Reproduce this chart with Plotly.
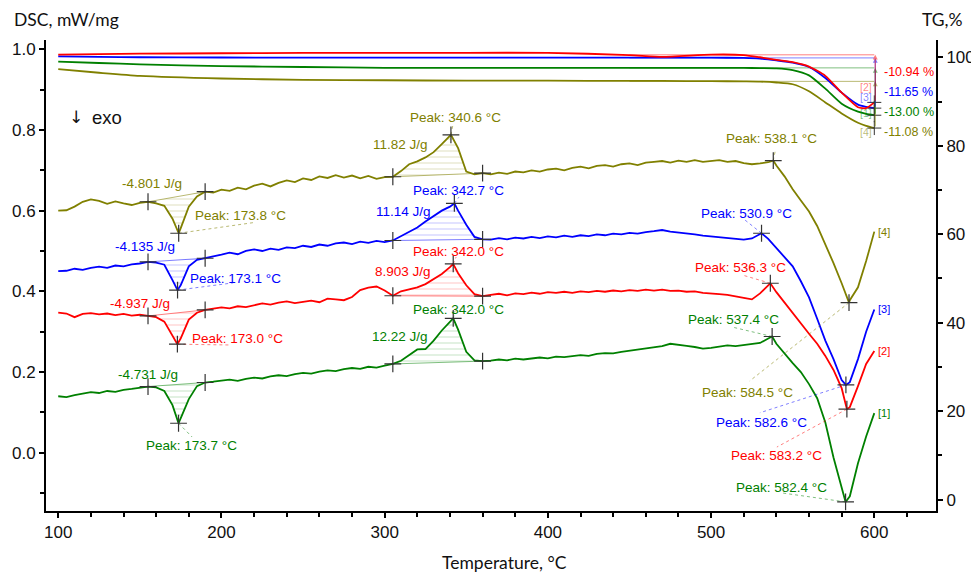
import plotly.graph_objects as go

# ---------------- data ----------------
T_GRID = list(range(100, 601, 5))

DSC_OLIVE = [0.600, 0.601, 0.610, 0.622, 0.628, 0.624, 0.617, 0.623, 0.618, 0.614,
             0.619, 0.622, 0.618, 0.612, 0.580, 0.556, 0.610, 0.635, 0.647, 0.645,
             0.652, 0.649, 0.657, 0.653, 0.662, 0.667, 0.660, 0.669, 0.675, 0.671,
             0.680, 0.676, 0.685, 0.681, 0.688, 0.682, 0.687, 0.680, 0.686, 0.679,
             0.683, 0.684, 0.698, 0.715, 0.722, 0.732, 0.745, 0.765, 0.785, 0.755,
             0.697, 0.690, 0.693, 0.690, 0.694, 0.691, 0.697, 0.695, 0.700, 0.697,
             0.702, 0.704, 0.700, 0.706, 0.709, 0.705, 0.711, 0.713, 0.709, 0.715,
             0.717, 0.713, 0.719, 0.721, 0.723, 0.719, 0.724, 0.721, 0.725, 0.721,
             0.723, 0.725, 0.721, 0.723, 0.718, 0.715, 0.717, 0.720, 0.712, 0.685,
             0.653, 0.625, 0.598, 0.562, 0.518, 0.470, 0.420, 0.378, 0.410, 0.475,
             0.548]
DSC_BLUE = [0.450, 0.451, 0.456, 0.453, 0.458, 0.461, 0.458, 0.464, 0.462, 0.467,
            0.469, 0.473, 0.471, 0.466, 0.428, 0.415, 0.462, 0.478, 0.482, 0.487,
            0.491, 0.496, 0.492, 0.500, 0.504, 0.500, 0.506, 0.503, 0.509, 0.507,
            0.513, 0.510, 0.516, 0.513, 0.519, 0.521, 0.517, 0.523, 0.520, 0.525,
            0.522, 0.526, 0.536, 0.548, 0.558, 0.573, 0.586, 0.600, 0.610, 0.600,
            0.565, 0.535, 0.529, 0.528, 0.532, 0.529, 0.533, 0.531, 0.535, 0.532,
            0.536, 0.534, 0.538, 0.535, 0.539, 0.537, 0.541, 0.539, 0.543, 0.541,
            0.545, 0.543, 0.547, 0.549, 0.552, 0.548, 0.546, 0.543, 0.541, 0.538,
            0.536, 0.534, 0.532, 0.530, 0.528, 0.531, 0.541, 0.530, 0.508, 0.485,
            0.462, 0.425, 0.385, 0.332, 0.278, 0.232, 0.180, 0.175, 0.232, 0.300,
            0.355]
DSC_RED = [0.347, 0.345, 0.336, 0.344, 0.346, 0.343, 0.345, 0.341, 0.344, 0.340,
           0.342, 0.339, 0.336, 0.325, 0.290, 0.283, 0.330, 0.347, 0.354, 0.357,
           0.360, 0.358, 0.363, 0.361, 0.366, 0.370, 0.367, 0.372, 0.375, 0.371,
           0.374, 0.377, 0.373, 0.382, 0.380, 0.378, 0.386, 0.403, 0.409, 0.412,
           0.402, 0.389, 0.400, 0.405, 0.410, 0.418, 0.430, 0.443, 0.460, 0.445,
           0.415, 0.393, 0.388, 0.391, 0.394, 0.390, 0.395, 0.393, 0.397, 0.394,
           0.398, 0.396, 0.399, 0.396, 0.400, 0.398, 0.401, 0.399, 0.402, 0.400,
           0.403, 0.401, 0.404, 0.402, 0.404, 0.401, 0.402, 0.399, 0.400, 0.396,
           0.395, 0.393, 0.391, 0.388, 0.384, 0.380, 0.395, 0.415, 0.398, 0.372,
           0.345, 0.318, 0.295, 0.270, 0.240, 0.205, 0.160, 0.113, 0.165, 0.220,
           0.252]
DSC_GREEN = [0.140, 0.138, 0.143, 0.147, 0.150, 0.148, 0.153, 0.151, 0.156, 0.158,
             0.161, 0.164, 0.162, 0.153, 0.118, 0.085, 0.133, 0.165, 0.174, 0.176,
             0.179, 0.181, 0.178, 0.183, 0.186, 0.184, 0.189, 0.192, 0.190, 0.195,
             0.198, 0.196, 0.201, 0.204, 0.202, 0.207, 0.210, 0.208, 0.213, 0.211,
             0.216, 0.220, 0.228, 0.242, 0.256, 0.257, 0.278, 0.303, 0.325, 0.305,
             0.250, 0.229, 0.227, 0.228, 0.231, 0.229, 0.233, 0.231, 0.234, 0.236,
             0.234, 0.238, 0.237, 0.240, 0.242, 0.240, 0.245, 0.247, 0.246, 0.250,
             0.253, 0.256, 0.258, 0.262, 0.264, 0.270, 0.268, 0.265, 0.262, 0.258,
             0.260, 0.263, 0.266, 0.264, 0.267, 0.270, 0.272, 0.283, 0.270, 0.245,
             0.222, 0.200, 0.170, 0.135, 0.075, -0.012, -0.085, -0.108, -0.026, 0.040,
             0.098]

PEAK_T_OLIVE = [173.8, 340.6, 538.1, 584.5]
PEAK_V_OLIVE = [0.544, 0.788, 0.724, 0.372]
PEAK_T_BLUE = [173.1, 342.7, 530.9, 582.6]
PEAK_V_BLUE = [0.403, 0.618, 0.544, 0.168]
PEAK_T_RED = [173.0, 342.0, 536.3, 583.2]
PEAK_V_RED = [0.269, 0.468, 0.420, 0.108]
PEAK_T_GREEN = [173.7, 342.0, 537.4, 582.4]
PEAK_V_GREEN = [0.073, 0.333, 0.288, -0.122]

INTEGRATION_LIMITS = [(155, 190), (305, 360)]
ENTHALPY_OLIVE = ["-4.801 J/g", "11.82 J/g"]
ENTHALPY_BLUE = ["-4.135 J/g", "11.14 J/g"]
ENTHALPY_RED = ["-4.937 J/g", "8.903 J/g"]
ENTHALPY_GREEN = ["-4.731 J/g", "12.22 J/g"]

T_TG = [100, 125, 150, 200, 250, 300, 350, 400, 450, 470, 500, 520, 530, 540, 550, 560, 570, 580, 590, 595, 600]
TG_RED = [100.6, 100.7, 100.8, 100.9, 101.0, 101.0, 101.0, 101.0, 100.5, 100.1, 100.6, 100.5, 100.0, 99.4, 98.9, 97.9, 95.8, 92.0, 88.7, 88.5, 89.8]
TG_BLUE = [100.2, 100.1, 100.0, 99.95, 99.9, 99.9, 99.9, 99.9, 99.9, 99.9, 99.9, 99.85, 99.7, 99.3, 98.8, 97.8, 95.3, 92.0, 89.3, 88.8, 88.5]
TG_GREEN = [99.0, 98.7, 98.4, 98.0, 97.8, 97.6, 97.6, 97.6, 97.6, 97.6, 97.6, 97.6, 97.55, 97.5, 97.1, 95.9, 92.9, 89.5, 87.7, 87.2, 86.9]
TG_OLIVE = [97.3, 96.5, 95.8, 95.2, 94.9, 94.8, 94.7, 94.7, 94.65, 94.65, 94.6, 94.55, 94.5, 94.3, 93.9, 92.3, 89.8, 87.3, 85.2, 84.5, 84.0]
TG_STEP_START = {"red": 100.55, "blue": 99.85, "green": 97.6, "olive": 94.55}
MASS_CHANGE = {"red": "-10.94 %", "blue": "-11.65 %", "green": "-13.00 %", "olive": "-11.08 %"}
CURVE_TAGS = {"green": "[1]", "red": "[2]", "blue": "[3]", "olive": "[4]"}

# ---------------- styling ----------------
COL = {"olive": "#808000", "blue": "#0000ff", "red": "#ff0000", "green": "#008000"}
LIGHT = {"olive": "rgba(128,128,0,0.55)", "blue": "rgba(0,0,255,0.5)",
         "red": "rgba(255,0,0,0.5)", "green": "rgba(0,128,0,0.5)"}
FONT = "Liberation Sans, Arial, sans-serif"
TITLE_FONT = "Lato, sans-serif"

fig = go.Figure()


def merge(tg, vg, tp, vp):
    pts = sorted(list(zip(tg, vg)) + list(zip(tp, vp)))
    return [p[0] for p in pts], [p[1] for p in pts]


# TG curves (right axis)
for key, tgv in [("olive", TG_OLIVE), ("green", TG_GREEN), ("blue", TG_BLUE), ("red", TG_RED)]:
    lvl = TG_STEP_START[key]
    fig.add_trace(go.Scatter(x=[450, 600], y=[lvl, lvl], yaxis="y2", mode="lines",
                             line=dict(color=LIGHT[key], width=1), hoverinfo="skip"))
    fig.add_trace(go.Scatter(x=T_TG, y=tgv, yaxis="y2", mode="lines",
                             line=dict(color=COL[key], width=1.8, shape="spline", smoothing=0.6)))
    fig.add_trace(go.Scatter(x=[600], y=[tgv[-1]], yaxis="y2", mode="markers",
                             marker=dict(symbol="cross-thin", size=10, line=dict(color="#333", width=1))))

dsc = {"olive": (DSC_OLIVE, PEAK_T_OLIVE, PEAK_V_OLIVE, ENTHALPY_OLIVE),
       "blue": (DSC_BLUE, PEAK_T_BLUE, PEAK_V_BLUE, ENTHALPY_BLUE),
       "red": (DSC_RED, PEAK_T_RED, PEAK_V_RED, ENTHALPY_RED),
       "green": (DSC_GREEN, PEAK_T_GREEN, PEAK_V_GREEN, ENTHALPY_GREEN)}

merged = {}
for key, (vals, pt, pv, _) in dsc.items():
    mt, mv = merge(T_GRID, vals, pt, pv)
    merged[key] = (mt, mv)
    for lo, hi in INTEGRATION_LIMITS:
        xs = [t for t in mt if lo <= t <= hi]
        ys = [v for t, v in zip(mt, mv) if lo <= t <= hi]
        fig.add_trace(go.Scatter(x=xs, y=ys, mode="lines", fill="toself",
                                 fillcolor="rgba(0,0,0,0)", line=dict(width=0),
                                 fillpattern=dict(shape="-", fgcolor=LIGHT[key], bgcolor="rgba(0,0,0,0)",
                                                  size=6, solidity=0.15),
                                 hoverinfo="skip"))
        fig.add_trace(go.Scatter(x=[xs[0], xs[-1]], y=[ys[0], ys[-1]], mode="lines",
                                 line=dict(color=LIGHT[key], width=1), hoverinfo="skip"))

for key in ["olive", "blue", "red", "green"]:
    mt, mv = merged[key]
    fig.add_trace(go.Scatter(x=mt, y=mv, mode="lines", line=dict(color=COL[key], width=1.8)))

# label placements (data coords) and leader-line ends
LABELS = {
    "olive": {"enth": [(157.4, 0.668), (309.4, 0.765)],
              "peak": [(211.9, 0.589), (343.7, 0.832), (537.2, 0.780), (522.5, 0.150)],
              "lead": [(220.7, 0.571), (342.0, 0.816), (539.5, 0.752), (523.7, 0.178)]},
    "blue": {"enth": [(153.1, 0.510), (311.8, 0.597)],
             "peak": [(208.9, 0.433), (345.5, 0.651), (521.9, 0.594), (531.1, 0.076)],
             "lead": [(207.2, 0.421), (345.6, 0.634), (520.7, 0.577), (529.9, 0.099)]},
    "red": {"enth": [(150.1, 0.371), (311.2, 0.448)],
            "peak": [(210.1, 0.284), (345.5, 0.498), (518.2, 0.458), (540.3, -0.006)],
            "lead": [(205.2, 0.267), (343.8, 0.485), (519.5, 0.440), (540.3, 0.014)]},
    "green": {"enth": [(155.0, 0.193), (309.4, 0.287)],
              "peak": [(181.9, 0.019), (345.5, 0.354), (514.0, 0.329), (543.4, -0.085)],
              "lead": [(182.0, 0.039), (343.1, 0.351), (513.4, 0.311), (543.9, -0.100)]},
}

annotations = []
for key, (vals, pt, pv, enth) in dsc.items():
    lab = LABELS[key]
    for (tx, ty), txt in zip(lab["enth"], enth):
        annotations.append(dict(x=tx, y=ty, text=txt, showarrow=False, xref="x", yref="y",
                                font=dict(family=FONT, size=13.5, color=COL[key])))
    for (tx, ty), t in zip(lab["peak"], pt):
        annotations.append(dict(x=tx, y=ty, text="Peak: %.1f °C" % t, showarrow=False, xref="x", yref="y",
                                font=dict(family=FONT, size=13.5, color=COL[key])))
    for (lx, ly), t, v in zip(lab["lead"], pt, pv):
        fig.add_trace(go.Scatter(x=[t, lx], y=[v, ly], mode="lines",
                                 line=dict(color=LIGHT[key], width=1, dash="dot"), hoverinfo="skip"))
    cx, cy = [], []
    for lo, hi in INTEGRATION_LIMITS:
        for b in (lo, hi):
            cx.append(b)
            cy.append(vals[T_GRID.index(b)])
    cx += pt
    cy += pv
    fig.add_trace(go.Scatter(x=cx, y=cy, mode="markers",
                             marker=dict(symbol="cross-thin", size=12, line=dict(color="#333", width=1.2))))
    annotations.append(dict(x=601, y=vals[-1], text=CURVE_TAGS[key], showarrow=False, xanchor="left",
                            xref="x", yref="y", font=dict(family=FONT, size=11, color=COL[key])))

# TG mass change arrows and labels
TG_END = {"red": TG_RED[-1], "blue": TG_BLUE[-1], "green": TG_GREEN[-1], "olive": TG_OLIVE[-1]}
MC_Y = {"red": 96.7, "blue": 92.2, "green": 87.6, "olive": 83.0}
TAG_Y = {"red": 93.35, "blue": 91.0, "green": 87.3, "olive": 83.1}
for key in ["olive", "green", "blue", "red"]:
    annotations.append(dict(x=600.6, y=TG_STEP_START[key], xref="x", yref="y2",
                            ax=600.6, ay=TG_END[key], axref="x", ayref="y2",
                            showarrow=True, arrowhead=2, arrowsize=0.8, arrowwidth=1.2,
                            arrowcolor=LIGHT[key], text=""))
    annotations.append(dict(x=605.0, y=MC_Y[key], xref="x", yref="y2", text=MASS_CHANGE[key],
                            showarrow=False, xanchor="left",
                            font=dict(family=FONT, size=12.5, color=COL[key])))
    annotations.append(dict(x=599.6, y=TAG_Y[key], xref="x", yref="y2", text=CURVE_TAGS[key],
                            showarrow=False, xanchor="right",
                            font=dict(family=FONT, size=10.5, color=LIGHT[key])))

# titles / misc text
annotations += [
    dict(x=0, y=1.0425, xref="paper", yref="paper", xanchor="left", yanchor="middle", xshift=-34,
         text="DSC, mW/mg", showarrow=False, font=dict(family=TITLE_FONT, size=17.5, color="#111")),
    dict(x=0.982, y=1.0425, xref="paper", yref="paper", xanchor="left", yanchor="middle",
         text="TG,%", showarrow=False, font=dict(family=TITLE_FONT, size=17.5, color="#111")),
    dict(x=0.5152, y=-0.1104, xref="paper", yref="paper", xanchor="center", yanchor="middle",
         text="Temperature, °C", showarrow=False, font=dict(family=TITLE_FONT, size=17.5, color="#111")),
    dict(x=0.0337, y=0.8365, xref="paper", yref="paper", xanchor="center", yanchor="middle",
         text="↓", showarrow=False, font=dict(family="DejaVu Sans", size=17, color="#111")),
    dict(x=0.0685, y=0.8365, xref="paper", yref="paper", xanchor="center", yanchor="middle",
         text="exo", showarrow=False, font=dict(family=FONT, size=18.5, color="#111")),
]

axis_common = dict(showline=True, linewidth=2, linecolor="black", ticks="outside", ticklen=5,
                   tickwidth=1.5, tickcolor="black", showgrid=False, zeroline=False, automargin=False,
                   tickfont=dict(family=FONT, size=17, color="#111"))

fig.update_layout(
    width=971, height=567,
    margin=dict(l=38, r=43, t=32, b=64),
    plot_bgcolor="white", paper_bgcolor="white",
    showlegend=False,
    xaxis=dict(range=[92.5, 637.8], tick0=0, dtick=100,
               minor=dict(dtick=20, ticks="outside", ticklen=4, tickwidth=1.5, tickcolor="black"),
               **axis_common),
    yaxis=dict(range=[-0.1445, 1.023], tick0=0, dtick=0.2, tickformat=".1f",
               minor=dict(dtick=0.1, ticks="outside", ticklen=4, tickwidth=1.5, tickcolor="black"),
               **axis_common),
    yaxis2=dict(range=[-2.55, 103.9], tick0=0, dtick=20, overlaying="y", side="right",
                minor=dict(dtick=10, ticks="outside", ticklen=4, tickwidth=1.5, tickcolor="black"),
                **axis_common),
    annotations=annotations,
)

fig.write_html("out.html")
